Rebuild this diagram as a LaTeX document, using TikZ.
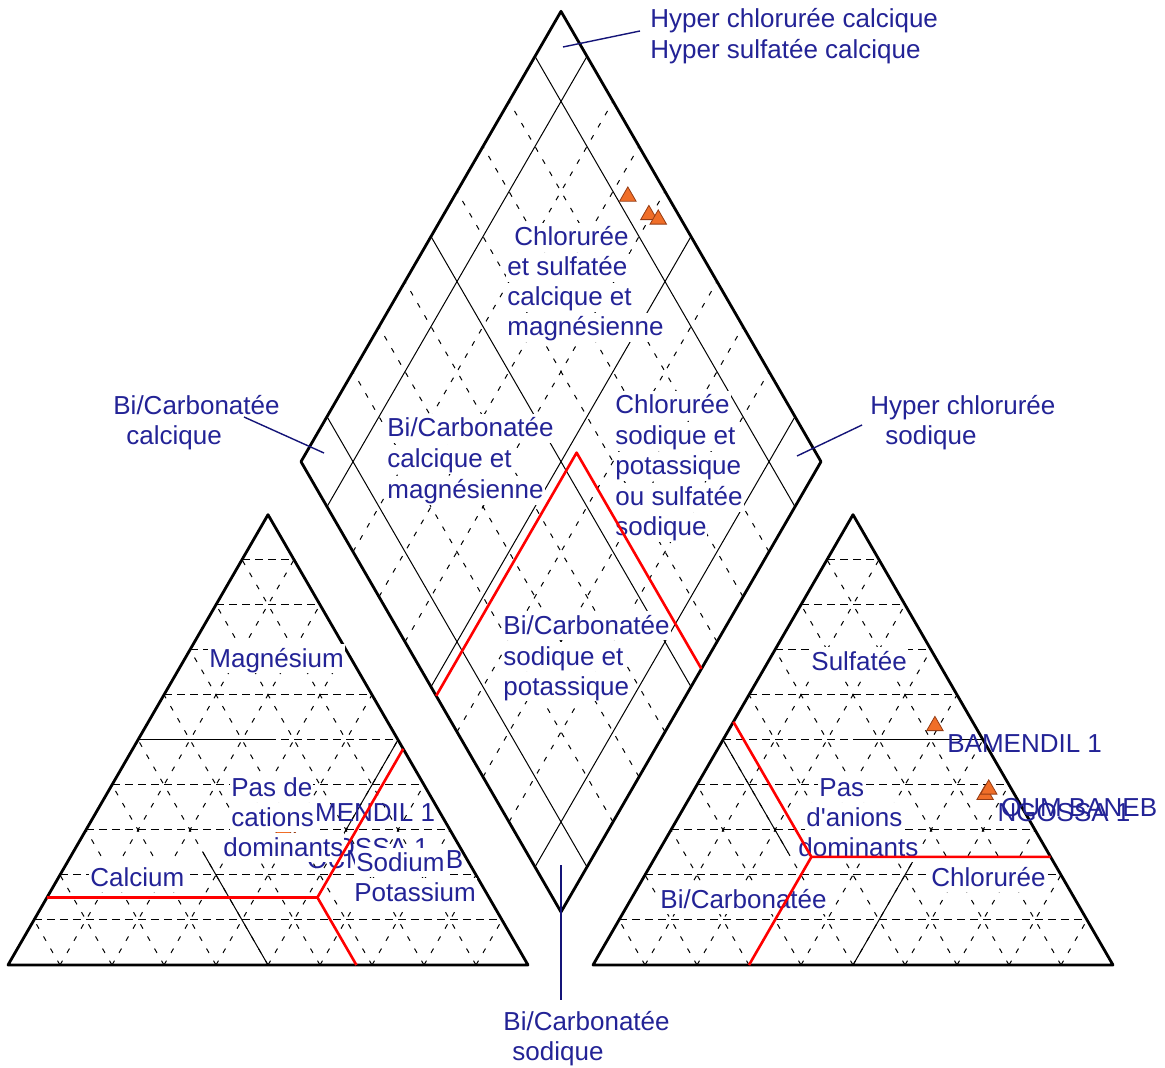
\documentclass[tikz,border=0pt]{standalone}
\usepackage{fontspec}
\setmainfont{Liberation Sans}
\usepackage{tikz}
\usetikzlibrary{shapes.geometric}
\definecolor{labelblue}{RGB}{35,35,150}
\definecolor{leadblue}{RGB}{20,20,120}
\definecolor{markorange}{RGB}{240,110,40}
\definecolor{markedge}{RGB}{150,60,20}
\tikzset{
  rim/.style={line width=1.4pt,line join=round},
  gridh/.style={line width=0.5pt,dash pattern=on 4pt off 2.5pt},
  gridd/.style={line width=0.5pt,dash pattern=on 2.5pt off 4.5pt},
  fine/.style={line width=0.5pt},
  bound/.style={red,line width=1.3pt,line join=round},
  zone/.style={text=labelblue,fill=white,anchor=base west,inner xsep=0.5pt,inner ysep=0pt,text height=11.6pt,text depth=2.8pt},
  well/.style={text=labelblue,anchor=base west,inner sep=0pt},
  tag/.style={well,xshift=6pt,yshift=-13.5pt},
  sample/.style={regular polygon,regular polygon sides=3,draw=markedge,fill=markorange,line width=0.4pt,minimum size=9.5pt,inner sep=0pt},
  leader/.style={leadblue,line width=0.7pt},
  tri/.style={x={(260pt,0pt)},y={(130pt,225.165pt)}},
  rhomb/.style={x={(-130pt,225.165pt)},y={(130pt,225.165pt)}}
}
\begin{document}
\begin{tikzpicture}[x=0.5pt,y=-0.5pt,every node/.style={font=\fontsize{13pt}{15pt}\selectfont}]
\useasboundingbox[fill=white] (0,0) rectangle (1165,1068);
\begin{scope}[shift={(8,965)},tri]
  \foreach \k in {1,...,9}{
    \draw[gridh] (0,\k/10) -- (1-\k/10,\k/10);
    \draw[gridd] (\k/10,0) -- (\k/10,1-\k/10);
    \draw[gridd] (1-\k/10,0) -- (0,1-\k/10);
  }
  \draw[fine] (0,0.5) -- (0.25,0.5);
  \draw[fine] (0.5,0) -- (0.25,0.25);
  \draw[fine] (0.5,0.5) -- (0.5,0.25);
  \draw[rim] (0,0) -- (1,0) -- (0,1) -- cycle;
  \coordinate (cP) at (0.52,0.15);
  \coordinate (cL) at (0,0.15);
  \coordinate (cR) at (0.52,0.48);
  \coordinate (cB) at (0.67,0);
  \node[sample] (bamC) at (0.311,0.378) {};
  \node[sample] (ngoC) at (0.379,0.301) {};
  \node[sample] (oumC) at (0.414,0.275) {};
\end{scope}
\begin{scope}[shift={(593,965)},tri]
  \foreach \k in {1,...,9}{
    \draw[gridh] (0,\k/10) -- (1-\k/10,\k/10);
    \draw[gridd] (\k/10,0) -- (\k/10,1-\k/10);
    \draw[gridd] (1-\k/10,0) -- (0,1-\k/10);
  }
  \draw[fine] (0.25,0.5) -- (0.5,0.5);
  \draw[fine] (0.5,0) -- (0.5,0.25);
  \draw[fine] (0,0.5) -- (0.25,0.25);
  \draw[rim] (0,0) -- (1,0) -- (0,1) -- cycle;
  \coordinate (aP) at (0.30,0.24);
  \coordinate (aL) at (0,0.54);
  \coordinate (aR) at (0.76,0.24);
  \coordinate (aB) at (0.30,0);
  \node[sample] (bamA) at (0.392,0.531) {};
  \node[sample] (ngoA) at (0.565,0.378) {};
  \node[sample] (oumA) at (0.566,0.390) {};
\end{scope}
\begin{scope}[shift={(561,912)},rhomb]
  \foreach \k in {2,3,4,6,7,8}{
    \draw[gridd] (\k/10,0) -- (\k/10,1);
    \draw[gridd] (0,\k/10) -- (1,\k/10);
  }
  \foreach \k in {1,5,9}{
    \draw[fine] (\k/10,0) -- (\k/10,1);
    \draw[fine] (0,\k/10) -- (1,\k/10);
  }
  \draw[rim] (0,0) -- (1,0) -- (1,1) -- (0,1) -- cycle;
  \coordinate (dP) at (0.48,0.54);
  \coordinate (dL) at (0.48,0);
  \coordinate (dR) at (0,0.54);
  \node[sample] (bamD) at (0.666,0.923) {};
  \node[sample] (ngoD) at (0.605,0.943) {};
  \node[sample] (oumD) at (0.582,0.956) {};
\end{scope}
\node[tag] (bamCl) at (bamC) {BAMENDIL 1};
\node[tag] (ngoCl) at (ngoC) {NGOSSA 1};
\node[tag] (oumCl) at (oumC) {OUM BANEB};
\node[tag] (bamAl) at (bamA) {BAMENDIL 1};
\node[tag] (ngoAl) at (ngoA) {NGOSSA 1};
\node[tag] (oumAl) at (oumA) {OUM BANEB};
\node[zone] (mgA) at (208,667) {Magnésium};
\node[zone] (pcA) at (230,796) {Pas de};
\node[zone] (pcB) at (230,826) {cations};
\node[zone] (pcC) at (222,856) {dominants};
\node[zone] (caA) at (89,886) {Calcium};
\node[zone] (naA) at (355,871) {Sodium};
\node[zone] (naB) at (353,901) {Potassium};
\node[zone] (soA) at (810,670) {Sulfatée};
\node[zone] (paA) at (818,796) {Pas};
\node[zone] (paB) at (805,826) {d\textquotesingle anions};
\node[zone] (paC) at (797,856) {dominants};
\node[zone] (hcA) at (659,908) {Bi/Carbonatée};
\node[zone] (clA) at (930,886) {Chlorurée};
\node[zone] (dtA) at (513,246) {Chlorurée};
\node[zone] (dtB) at (506,276) {et sulfatée};
\node[zone] (dtC) at (506,306) {calcique et};
\node[zone] (dtD) at (506,336) {magnésienne};
\node[zone] (dlA) at (386,437) {Bi/Carbonatée};
\node[zone] (dlB) at (386,468) {calcique et};
\node[zone] (dlC) at (386,499) {magnésienne};
\node[zone] (drA) at (614,414) {Chlorurée};
\node[zone] (drB) at (614,445) {sodique et};
\node[zone] (drC) at (614,475) {potassique};
\node[zone] (drD) at (614,506) {ou sulfatée};
\node[zone] (drE) at (614,536) {sodique};
\node[zone] (dbA) at (502,634) {Bi/Carbonatée};
\node[zone] (dbB) at (502,665) {sodique et};
\node[zone] (dbC) at (502,695) {potassique};
\draw[bound] (cL) -- (cP) -- (cR);
\draw[bound] (cP) -- (cB);
\draw[bound] (aR) -- (aP) -- (aL);
\draw[bound] (aP) -- (aB);
\draw[bound] (dL) -- (dP) -- (dR);
\node[well] (hyA) at (650,28) {Hyper chlorurée calcique};
\node[well] (hyB) at (650,59) {Hyper sulfatée calcique};
\node[well] (bcA) at (113,415) {Bi/Carbonatée};
\node[well] (bcB) at (126,445) {calcique};
\node[well] (hnA) at (870,415) {Hyper chlorurée};
\node[well] (hnB) at (885,445) {sodique};
\node[well] (bnA) at (503,1030) {Bi/Carbonatée};
\node[well] (bnB) at (512,1060) {sodique};
\coordinate (topIn) at (563,47);
\coordinate (topOut) at (640,31);
\coordinate (leftIn) at (324,453);
\coordinate (leftOut) at (244,417);
\coordinate (rightIn) at (797,456);
\coordinate (rightOut) at (862,425);
\coordinate (botIn) at (561,865);
\coordinate (botOut) at (561,1000);
\draw[leader] (topIn) -- (topOut);
\draw[leader] (leftIn) -- (leftOut);
\draw[leader] (rightIn) -- (rightOut);
\draw[leader] (botIn) -- (botOut);
\end{tikzpicture}
\end{document}
